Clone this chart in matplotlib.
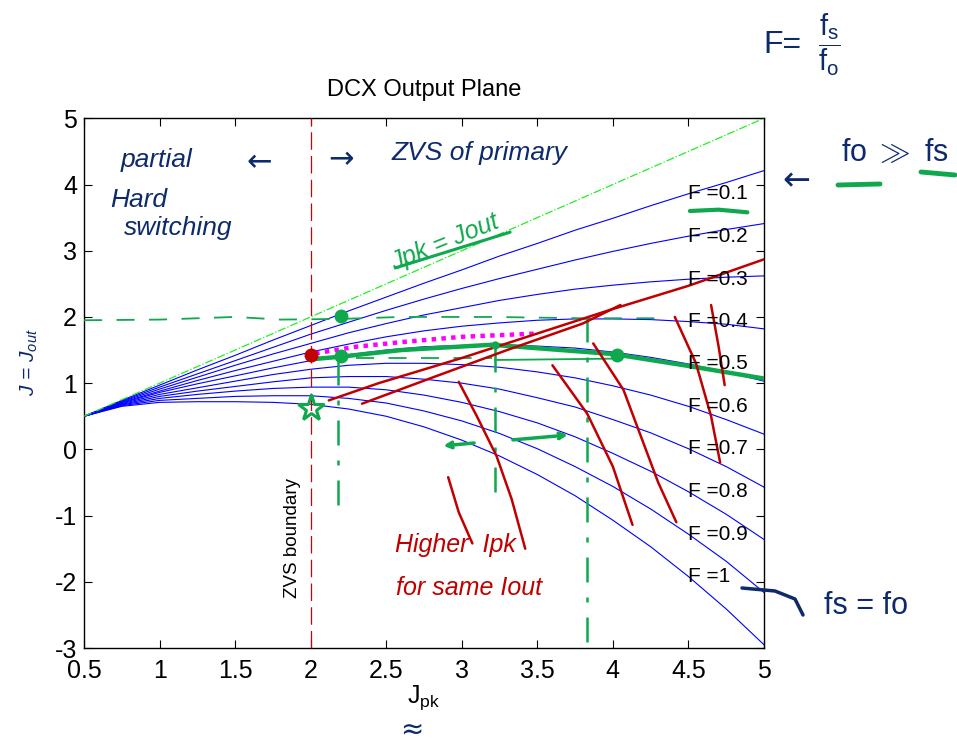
import matplotlib
matplotlib.use('Agg')
import matplotlib.pyplot as plt
from matplotlib.lines import Line2D

plt.rcParams['font.family'] = ['Liberation Sans', 'DejaVu Sans']
plt.rcParams['mathtext.fontset'] = 'custom'
plt.rcParams['mathtext.rm'] = 'Liberation Sans'
plt.rcParams['mathtext.it'] = 'Liberation Sans:italic'
plt.rcParams['axes.unicode_minus'] = False

# ---------------- data ----------------
jpk = [0.5, 0.75, 1.0, 1.25, 1.5, 1.75, 2.0, 2.25, 2.5, 2.75, 3.0,
       3.25, 3.5, 3.75, 4.0, 4.25, 4.5, 4.75, 5.0]

F_labels = ['F =0.1', 'F =0.2', 'F =0.3', 'F =0.4', 'F =0.5',
            'F =0.6', 'F =0.7', 'F =0.8', 'F =0.9', 'F =1']

J_F01 = [0.50, 0.74, 0.97, 1.20, 1.42, 1.65, 1.87, 2.09, 2.30, 2.51, 2.71,
         2.92, 3.11, 3.31, 3.49, 3.68, 3.86, 4.03, 4.21]
J_F02 = [0.50, 0.73, 0.94, 1.14, 1.34, 1.54, 1.74, 1.92, 2.10, 2.27, 2.43,
         2.58, 2.72, 2.86, 2.99, 3.11, 3.22, 3.32, 3.41]
J_F03 = [0.50, 0.72, 0.91, 1.09, 1.27, 1.44, 1.60, 1.76, 1.90, 2.03, 2.14,
         2.25, 2.34, 2.42, 2.48, 2.53, 2.57, 2.60, 2.62]
J_F04 = [0.50, 0.71, 0.88, 1.04, 1.19, 1.33, 1.47, 1.59, 1.70, 1.79, 1.86,
         1.91, 1.95, 1.97, 1.97, 1.96, 1.93, 1.89, 1.82]
J_F05 = [0.50, 0.70, 0.86, 0.99, 1.11, 1.23, 1.34, 1.43, 1.50, 1.55, 1.57,
         1.58, 1.56, 1.53, 1.47, 1.39, 1.29, 1.17, 1.03]
J_F06 = [0.50, 0.69, 0.83, 0.93, 1.03, 1.13, 1.21, 1.27, 1.30, 1.30, 1.28,
         1.24, 1.17, 1.08, 0.96, 0.82, 0.65, 0.45, 0.23]
J_F07 = [0.50, 0.68, 0.80, 0.88, 0.95, 1.02, 1.08, 1.10, 1.10, 1.06, 1.00,
         0.91, 0.78, 0.64, 0.45, 0.25, 0.01, -0.26, -0.57]
J_F08 = [0.50, 0.67, 0.77, 0.83, 0.88, 0.92, 0.94, 0.94, 0.90, 0.82, 0.71,
         0.57, 0.40, 0.19, -0.06, -0.33, -0.64, -0.98, -1.36]
J_F09 = [0.50, 0.66, 0.74, 0.77, 0.80, 0.81, 0.81, 0.77, 0.70, 0.58, 0.43,
         0.24, 0.01, -0.26, -0.56, -0.90, -1.28, -1.69, -2.16]
J_F10 = [0.50, 0.65, 0.71, 0.72, 0.72, 0.71, 0.68, 0.61, 0.50, 0.34, 0.14,
         -0.10, -0.38, -0.70, -1.07, -1.47, -1.92, -2.41, -2.95]

curves = [J_F01, J_F02, J_F03, J_F04, J_F05, J_F06, J_F07, J_F08, J_F09, J_F10]
label_x = 4.5
label_index = jpk.index(label_x)

diag_x = [0.5, 5.0]
diag_y = [0.5, 5.0]
zvs_x = 2.0

# hand-drawn annotation strokes (data coordinates)
green_curve_x = [2.0, 2.2, 2.6, 3.2, 3.6, 4.0, 4.5, 5.0]
green_curve_y = [1.36, 1.40, 1.50, 1.58, 1.51, 1.44, 1.26, 1.07]
green_dots_x = [2.2, 2.2, 4.03, 3.22]
green_dots_y = [2.01, 1.41, 1.43, 1.58]
green_dots_size = [9, 9, 9, 5]
red_dot_x = [2.0]
red_dot_y = [1.43]
magenta_x = [2.03, 2.3, 2.6, 3.0, 3.5]
magenta_y = [1.45, 1.55, 1.62, 1.70, 1.75]
green_hdash_x = [0.5, 1.0, 1.5, 1.8, 2.2, 2.6, 3.2, 3.8, 4.3]
green_hdash_y = [1.95, 1.96, 2.00, 1.96, 1.97, 2.00, 2.00, 1.98, 1.98]
green_hdash2_x = [2.3, 3.2]
green_hdash2_y = [1.38, 1.38]
green_hline3_x = [3.22, 4.0]
green_hline3_y = [1.35, 1.37]
green_vert_x = [2.18, 3.22, 3.83]
green_vert_top = [1.35, 1.55, 2.0]
green_vert_bottom = [-0.9, -0.65, -3.05]
star_x = [2.0]
star_y = [0.63]
red_long1_x = [2.12, 2.45, 3.0, 3.5, 4.0, 4.5, 5.0]
red_long1_y = [0.74, 1.00, 1.38, 1.75, 2.12, 2.47, 2.87]
red_long2_x = [2.34, 2.8, 3.3, 3.8, 4.05]
red_long2_y = [0.69, 1.08, 1.50, 1.90, 2.18]
red_s1_x = [2.98, 3.10, 3.23, 3.33, 3.42]
red_s1_y = [1.02, 0.50, -0.10, -0.75, -1.50]
red_s2_x = [3.60, 3.83, 4.00, 4.13]
red_s2_y = [1.27, 0.54, -0.26, -1.14]
red_s3_x = [3.87, 4.07, 4.30, 4.42]
red_s3_y = [1.60, 0.90, -0.50, -1.10]
red_s4_x = [4.41, 4.55, 4.65, 4.71]
red_s4_y = [2.00, 1.30, 0.50, -0.20]
red_s5_x = [4.65, 4.70, 4.74]
red_s5_y = [2.18, 1.55, 0.97]
red_s6_x = [2.91, 2.98, 3.07]
red_s6_y = [-0.42, -0.95, -1.42]
green_ul_x = [4.51, 4.70, 4.89]
green_ul_y = [3.60, 3.62, 3.58]
jeq_ul_x = [2.56, 3.32]
jeq_ul_y = [2.74, 3.28]

NAVY = '#0d2a6b'
HGREEN = '#10a84e'
HRED = '#c00000'

fig = plt.figure(figsize=(9.57, 7.44), dpi=100)
ax = fig.add_axes([0.0878, 0.129, 0.7105, 0.712])

for ys in curves:
    ax.plot(jpk, ys, color='#0000ff', lw=0.8, zorder=2)
ax.plot(diag_x, diag_y, color='#22ee22', lw=0.9, ls='-.', zorder=3)
ax.axvline(zvs_x, color='#d00000', lw=0.9, dashes=(14, 5), zorder=3)

for lab, ys in zip(F_labels, curves):
    ax.text(label_x, ys[label_index], lab, fontsize=15, ha='left', va='center', zorder=6)

ax.text(1.88, -1.34, 'ZVS boundary', rotation=90, fontsize=13.5,
        ha='center', va='center', zorder=6)

# annotations
ax.plot(green_hdash_x, green_hdash_y, color=HGREEN, lw=1.3, dashes=(10, 8), zorder=4)
ax.plot(green_hdash2_x, green_hdash2_y, color=HGREEN, lw=1.3, dashes=(10, 8), zorder=4)
ax.plot(green_hline3_x, green_hline3_y, color=HGREEN, lw=1.3, zorder=4)
for gx, gt, gb in zip(green_vert_x, green_vert_top, green_vert_bottom):
    ax.plot([gx, gx], [gt, gb], color=HGREEN, lw=1.8, dashes=(10, 6, 2, 6), zorder=4)
ax.plot(green_curve_x, green_curve_y, color=HGREEN, lw=3.2, zorder=5, solid_capstyle='round')
ax.plot(magenta_x, magenta_y, color='#ff00ff', lw=3.2, ls=(0, (1, 1.2)), zorder=5)
for sx, sy in [(red_long1_x, red_long1_y), (red_long2_x, red_long2_y),
               (red_s1_x, red_s1_y), (red_s2_x, red_s2_y), (red_s3_x, red_s3_y),
               (red_s4_x, red_s4_y), (red_s5_x, red_s5_y), (red_s6_x, red_s6_y)]:
    ax.plot(sx, sy, color=HRED, lw=1.8, zorder=5, solid_capstyle='round')
for gx, gy, gs in zip(green_dots_x, green_dots_y, green_dots_size):
    ax.plot(gx, gy, 'o', color=HGREEN, ms=gs, zorder=6)
ax.plot(red_dot_x, red_dot_y, 'o', color=HRED, ms=9, zorder=6)
ax.plot(star_x, star_y, marker='*', ms=20, mfc='none', mec=HGREEN, mew=2.2, zorder=6)
ax.plot(green_ul_x, green_ul_y, color=HGREEN, lw=3, zorder=6, solid_capstyle='round')
ax.plot(jeq_ul_x, jeq_ul_y, color=HGREEN, lw=2.2, zorder=6, solid_capstyle='round')

ax.annotate('', xy=(2.86, 0.05), xytext=(3.1, 0.1),
            arrowprops=dict(arrowstyle='->', color=HGREEN, lw=2.5), zorder=6)
ax.annotate('', xy=(3.72, 0.22), xytext=(3.32, 0.14),
            arrowprops=dict(arrowstyle='->', color=HGREEN, lw=2.5), zorder=6)

hw = dict(fontstyle='italic', zorder=7)
ax.text(0.98, 4.37, 'partial', color=NAVY, fontsize=19, ha='center', va='center', **hw)
ax.text(0.86, 3.76, 'Hard', color=NAVY, fontsize=19, ha='center', va='center', **hw)
ax.text(1.12, 3.35, 'switching', color=NAVY, fontsize=19, ha='center', va='center', **hw)
ax.text(1.66, 4.33, '\u2190', color=NAVY, fontsize=22, ha='center', va='center', family='DejaVu Sans')
ax.text(2.2, 4.38, '\u2192', color=NAVY, fontsize=22, ha='center', va='center', family='DejaVu Sans')
ax.text(3.12, 4.47, 'ZVS of primary', color=NAVY, fontsize=19, ha='center', va='center', **hw)
ax.text(2.89, 3.13, 'Jpk = Jout', color=HGREEN, fontsize=18, rotation=22,
        ha='center', va='center', **hw)
ax.text(2.96, -1.45, 'Higher  Ipk', color=HRED, fontsize=18, ha='center', va='center', **hw)
ax.text(3.05, -2.09, 'for same Iout', color=HRED, fontsize=18, ha='center', va='center', **hw)

ax.set_xlim(0.5, 5)
ax.set_ylim(-3, 5)
ax.set_xticks([0.5, 1, 1.5, 2, 2.5, 3, 3.5, 4, 4.5, 5])
ax.set_xticklabels(['0.5', '1', '1.5', '2', '2.5', '3', '3.5', '4', '4.5', '5'])
ax.set_yticks([-3, -2, -1, 0, 1, 2, 3, 4, 5])
ax.tick_params(direction='in', top=True, right=True, length=6, width=0.8,
               labelsize=18)
ax.tick_params(axis='x', pad=8)
ax.tick_params(axis='y', pad=5)
for s in ax.spines.values():
    s.set_linewidth(1.0)

ax.set_title('DCX Output Plane', fontsize=17, pad=16)
ax.set_xlabel(r'$\mathregular{J_{pk}}$', fontsize=18, labelpad=0)

# outside-axes handwritten notes (figure coordinates)
fig.text(0.031, 0.513, r'J = $\mathregular{J_{out}}$', rotation=90, color=NAVY,
         fontsize=15, ha='center', va='center', fontstyle='italic')
fig.text(0.818, 0.94, 'F=', color=NAVY, fontsize=23, ha='center', va='center')
fig.text(0.867, 0.94, r'$\mathregular{\dfrac{f_s}{f_o}}$', color=NAVY, fontsize=21,
         ha='center', va='center')
fig.text(0.935, 0.795, r'fo $\gg$ fs', color=NAVY, fontsize=22, ha='center', va='center')
fig.text(0.832, 0.757, '\u2190', color=NAVY, fontsize=24, ha='center', va='center',
         family='DejaVu Sans')
fig.text(0.905, 0.185, 'fs = fo', color=NAVY, fontsize=22, ha='center', va='center')
fig.add_artist(Line2D([838 / 957, 880 / 957], [1 - 185 / 744, 1 - 184 / 744],
                      color=HGREEN, lw=3.5, solid_capstyle='round'))
fig.add_artist(Line2D([921 / 957, 955 / 957], [1 - 172 / 744, 1 - 175 / 744],
                      color=HGREEN, lw=3.5, solid_capstyle='round'))
fig.add_artist(Line2D([742 / 957, 775 / 957, 795 / 957, 803 / 957],
                      [1 - 588 / 744, 1 - 591 / 744, 1 - 599 / 744, 1 - 615 / 744],
                      color=NAVY, lw=2.5, solid_capstyle='round'))
fig.text(0.43, 0.0, '\u2248', color=NAVY, fontsize=20, ha='center', va='bottom',
         family='DejaVu Sans')

fig.savefig('out.png', dpi=100)
